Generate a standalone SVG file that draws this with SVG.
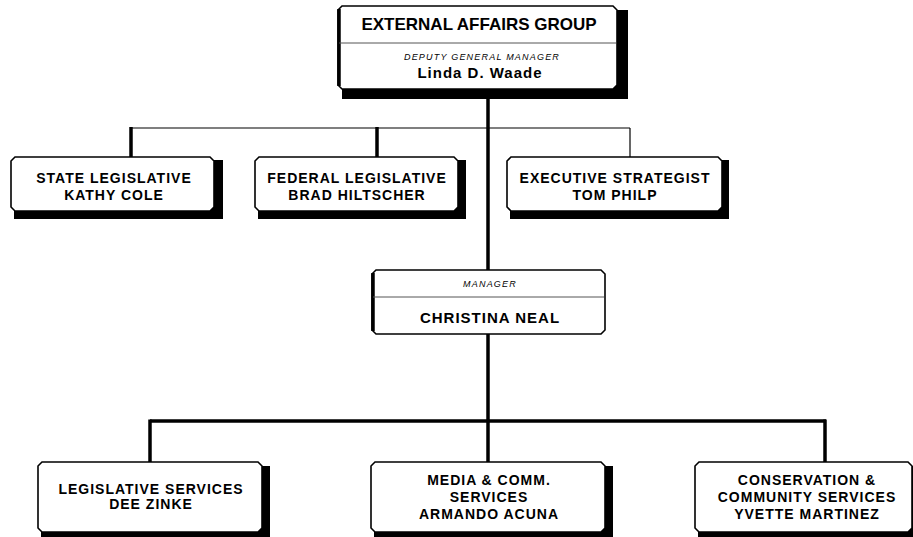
<svg xmlns="http://www.w3.org/2000/svg" width="913" height="537" viewBox="0 0 913 537">
  <style>
    .shadow { fill: #000; }
    .box { fill: #fff; stroke: #000; stroke-width: 1.6; stroke-linejoin: miter; }
    .edge { stroke: #000; stroke-width: 3.5; fill: none; }
    .divider { stroke: #555; stroke-width: 1; }
    .thin { stroke: #000; stroke-width: 1.2; fill: none; }
    .thick { stroke: #000; stroke-width: 3.5; fill: none; }
    text { font-family: "Liberation Sans", Arial, Helvetica, sans-serif; fill: #000; text-anchor: middle; }
    .title { font-size: 17px; font-weight: bold; }
    .role { font-size: 9px; font-style: italic; letter-spacing: 1.2px; }
    .name { font-size: 15px; font-weight: bold; letter-spacing: 1px; }
    .unit { font-size: 14px; font-weight: bold; letter-spacing: 1px; }
  </style>

  <!-- connectors -->
  <g id="connectors">
    <line class="thick" x1="488" y1="89" x2="488" y2="462"/>
    <line class="thin" x1="131" y1="128" x2="630" y2="128"/>
    <line class="thick" x1="131" y1="127" x2="131" y2="157"/>
    <line class="thick" x1="377" y1="127" x2="377" y2="157"/>
    <line class="thin" x1="630" y1="128" x2="630" y2="157"/>
    <line class="thick" x1="150" y1="421" x2="826" y2="421"/>
    <line class="thick" x1="150" y1="419.5" x2="150" y2="462"/>
    <line class="thick" x1="825" y1="419.5" x2="825" y2="462"/>
  </g>

  <!-- External Affairs Group -->
  <g id="external-affairs">
    <rect class="shadow" x="342" y="10" width="286" height="89"/>
    <path class="box" d="M342,6 H613 L617,10 V85 L613,89 H342 L338,85 V10 Z"/>
    <line class="edge" x1="339" y1="9" x2="339" y2="86"/>
    <line class="divider" x1="339" y1="43" x2="616" y2="43"/>
    <text class="title" x="479" y="30">EXTERNAL AFFAIRS GROUP</text>
    <text class="role" x="482" y="60">DEPUTY GENERAL MANAGER</text>
    <text class="name" x="480" y="78">Linda D. Waade</text>
  </g>

  <!-- State Legislative -->
  <g id="state-legislative">
    <rect class="shadow" x="14" y="160" width="209" height="59"/>
    <path class="box" d="M15,157 H210 L214,161 V207 L210,211 H15 L11,207 V161 Z"/>
    <text class="unit" x="114" y="183">STATE LEGISLATIVE</text>
    <text class="unit" x="114" y="200">KATHY COLE</text>
  </g>

  <!-- Federal Legislative -->
  <g id="federal-legislative">
    <rect class="shadow" x="258" y="160" width="208" height="59"/>
    <path class="box" d="M259,157 H454 L458,161 V207 L454,211 H259 L255,207 V161 Z"/>
    <text class="unit" x="357" y="183">FEDERAL LEGISLATIVE</text>
    <text class="unit" x="357" y="200">BRAD HILTSCHER</text>
  </g>

  <!-- Executive Strategist -->
  <g id="executive-strategist">
    <rect class="shadow" x="510" y="160" width="219" height="59"/>
    <path class="box" d="M511,157 H718 L722,161 V207 L718,211 H511 L507,207 V161 Z"/>
    <text class="unit" x="615" y="183">EXECUTIVE STRATEGIST</text>
    <text class="unit" x="615" y="200">TOM PHILP</text>
  </g>

  <!-- Manager -->
  <g id="manager">
    <path class="box" d="M376,270 H601 L605,274 V330 L601,334 H376 L372,330 V274 Z"/>
    <line class="edge" x1="373" y1="273" x2="373" y2="331"/>
    <line class="divider" x1="373" y1="297" x2="604" y2="297"/>
    <text class="role" x="490" y="287">MANAGER</text>
    <text class="name" x="490" y="323">CHRISTINA NEAL</text>
  </g>

  <!-- Legislative Services -->
  <g id="legislative-services">
    <rect class="shadow" x="41" y="466" width="229" height="71"/>
    <path class="box" d="M42,462 H258 L262,466 V528 L258,532 H42 L38,528 V466 Z"/>
    <text class="unit" x="151" y="494">LEGISLATIVE SERVICES</text>
    <text class="unit" x="151" y="509">DEE ZINKE</text>
  </g>

  <!-- Media & Communications -->
  <g id="media-communications">
    <rect class="shadow" x="374" y="466" width="239" height="71"/>
    <path class="box" d="M375,462 H601 L605,466 V528 L601,532 H375 L371,528 V466 Z"/>
    <text class="unit" x="489" y="485">MEDIA &amp; COMM.</text>
    <text class="unit" x="489" y="502">SERVICES</text>
    <text class="unit" x="489" y="519">ARMANDO ACUNA</text>
  </g>

  <!-- Conservation & Community -->
  <g id="conservation-community">
    <rect class="shadow" x="698" y="466" width="215" height="71"/>
    <path class="box" d="M699,462 H908 L912,466 V528 L908,532 H699 L695,528 V466 Z"/>
    <text class="unit" x="807" y="485">CONSERVATION &amp;</text>
    <text class="unit" x="807" y="502">COMMUNITY SERVICES</text>
    <text class="unit" x="807" y="519">YVETTE MARTINEZ</text>
  </g>
</svg>
